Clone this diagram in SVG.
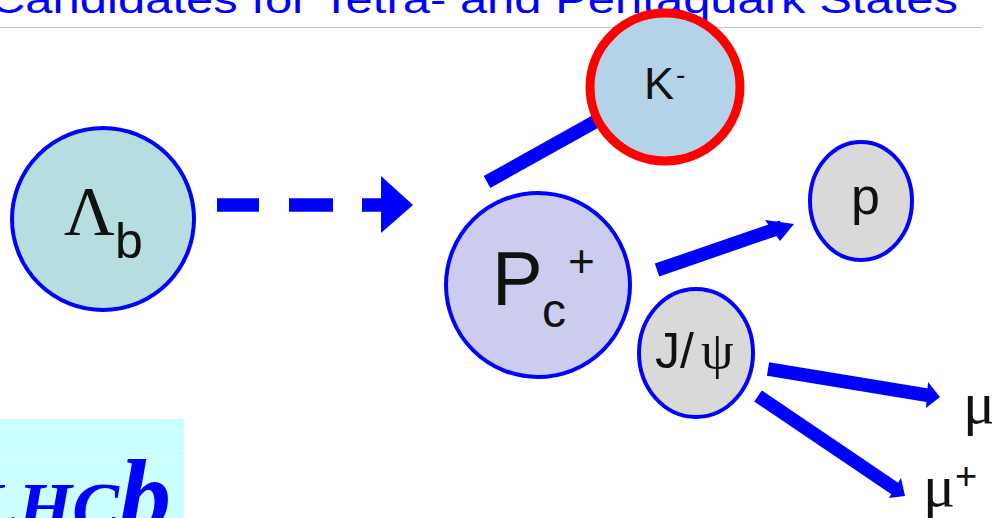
<svg xmlns="http://www.w3.org/2000/svg" width="992" height="518" viewBox="0 0 992 518">
<style>
.t{font-family:"Liberation Sans",Arial,sans-serif;fill:#111}
.s{font-family:"Liberation Serif","Times New Roman",serif;fill:#111}
.n{stroke:#0000ff;stroke-width:4}
.c{stroke:#0000ff;stroke-width:13.5;fill:none}
.h{fill:#0000ff}
</style>
<rect width="992" height="518" fill="#fff"/>
<text id="title" x="-10" y="13" font-family="'Liberation Sans',Arial,sans-serif" font-size="38.5" fill="#0000ff" textLength="968" lengthAdjust="spacingAndGlyphs">Candidates for Tetra- and Pentaquark States</text>
<rect x="0" y="27" width="982" height="1" fill="#c0c0c0"/>
<g id="logo">
<rect x="0" y="419" width="184" height="99" fill="#ccffff"/>
<rect x="0" y="450" width="184" height="1" fill="#e0ffff"/>
<text x="-25" y="531" font-family="'Liberation Serif',serif" font-size="70" font-style="italic" font-weight="bold" fill="#0000ff">LHC<tspan font-size="104">b</tspan></text>
</g>
<g id="connectors">
<path class="c" d="M217 205H259"/>
<path class="c" d="M289 205H333"/>
<path class="c" d="M362 205H385"/>
<path class="h" d="M381 176L413 205L381 233Z"/>
<path class="c" d="M487 182L600 119"/>
<path class="c" d="M657 270L782 227"/>
<path class="h" d="M765 220L794 224L780 241Z"/>
<path class="c" d="M768 369L932 396"/>
<path class="h" d="M928 382L940 397L926 408Z"/>
<path class="c" d="M758 396L897 490"/>
<path class="h" d="M901 478L905 496L889 498Z"/>
</g>
<g id="lambda-b">
<circle class="n" cx="103" cy="219" r="91" fill="#b6dde0"/>
<text class="s" x="64" y="235" font-size="70">Λ</text>
<text class="t" x="115" y="258" font-size="50">b</text>
</g>
<g id="pc">
<circle class="n" cx="538" cy="285" r="92" fill="#ccccee"/>
<text class="t" x="492" y="305" font-size="76">P</text>
<text class="t" x="542" y="327" font-size="48">c</text>
<text class="t" x="568" y="277" font-size="46">+</text>
</g>
<g id="k-minus">
<ellipse cx="665" cy="87" rx="75" ry="74" fill="#b5d3e8" stroke="#ff0000" stroke-width="9"/>
<text class="t" x="644" y="99" font-size="45">K</text>
<text class="t" x="676" y="84" font-size="28">-</text>
</g>
<g id="p">
<ellipse class="n" cx="861" cy="201" rx="51" ry="59" fill="#d9d9d9"/>
<text class="t" x="851" y="214" font-size="52">p</text>
</g>
<g id="jpsi">
<ellipse class="n" cx="696" cy="353" rx="57" ry="64" fill="#d9d9d9"/>
<text class="t" x="655" y="368" font-size="50">J/</text>
<text class="s" x="701" y="368" font-size="52">ψ</text>
</g>
<g id="mu-minus"><text class="s" x="963" y="423" font-size="60">μ</text></g>
<g id="mu-plus">
<text class="s" x="923" y="506" font-size="60">μ</text>
<text class="t" x="955" y="489" font-size="38">+</text>
</g>
</svg>
